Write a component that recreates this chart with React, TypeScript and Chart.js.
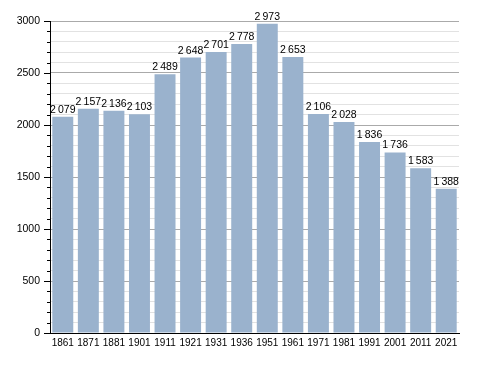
import React, { useEffect, useRef } from "react";
import { Chart, registerables } from "chart.js";

Chart.register(...registerables);

const years = ["1861", "1871", "1881", "1901", "1911", "1921", "1931", "1936", "1951", "1961", "1971", "1981", "1991", "2001", "2011", "2021"];
const population = [2079, 2157, 2136, 2103, 2489, 2648, 2701, 2778, 2973, 2653, 2106, 2028, 1836, 1736, 1583, 1388];
const yMax = 3000;
const majorStep = 500;
const minorStep = 100;

const fmt = (v: number) => {
  const s = String(v);
  return s.length > 3 ? s.slice(0, s.length - 3) + "\u2009" + s.slice(s.length - 3) : s;
};

const FONT = "'Liberation Sans', Arial, sans-serif";

const overlay = {
  id: "overlay",
  afterDatasetsDraw(chart: any) {
    const ctx = chart.ctx;
    const y = chart.scales.y;
    const area = chart.chartArea;
    ctx.save();
    ctx.strokeStyle = "#000";
    ctx.lineWidth = 1;
    for (let v = 0; v <= yMax; v += minorStep) {
      const py = Math.round(y.getPixelForValue(v)) + 0.5;
      const len = v % majorStep === 0 ? 6 : 3;
      ctx.beginPath();
      ctx.moveTo(area.left - len, py);
      ctx.lineTo(area.left, py);
      ctx.stroke();
    }
    ctx.fillStyle = "#000";
    ctx.font = "10.5px " + FONT;
    ctx.textAlign = "center";
    ctx.textBaseline = "alphabetic";
    const meta = chart.getDatasetMeta(0);
    meta.data.forEach((bar: any, i: number) => {
      ctx.fillText(fmt(population[i]), bar.x, bar.y - 4);
    });
    ctx.restore();
  },
};

export default function App() {
  const ref = useRef<HTMLCanvasElement>(null);
  useEffect(() => {
    if (!ref.current) return;
    const chart = new Chart(ref.current, {
      type: "bar",
      data: {
        labels: years,
        datasets: [
          {
            data: population,
            backgroundColor: "rgb(154,178,205)",
            borderWidth: 0,
            categoryPercentage: 0.82,
            barPercentage: 1,
          },
        ],
      },
      plugins: [overlay],
      options: {
        responsive: false,
        animation: false,
        devicePixelRatio: 1,
        layout: { padding: { left: 0, right: 29, top: 21, bottom: 0 } },
        plugins: { legend: { display: false }, tooltip: { enabled: false }, title: { display: false } },
        scales: {
          x: {
            grid: { display: false, drawTicks: false },
            border: { color: "#000", width: 1 },
            ticks: { color: "#000", font: { family: FONT, size: 10 }, padding: 4, maxRotation: 0, autoSkip: false },
            afterFit: (s: any) => { s.height = 40; },
          },
          y: {
            min: 0,
            max: yMax,
            border: { color: "#000", width: 1 },
            grid: {
              drawTicks: false,
              color: (c: any) => (c.tick && c.tick.value % majorStep === 0 ? "#aaaaaa" : "#e2e2e2"),
            },
            ticks: {
              stepSize: minorStep,
              autoSkip: false,
              color: "#000",
              font: { family: FONT, size: 10.5 },
              padding: 10,
              callback: (v: any) => (Number(v) % majorStep === 0 ? String(v) : ""),
            },
            afterFit: (s: any) => { s.width = 50; },
          },
        },
      },
    });
    return () => chart.destroy();
  }, []);
  return (
    <div style={{ position: "absolute", left: 0, top: 0, width: 488, height: 373, background: "#fff" }}>
      <canvas ref={ref} width={488} height={373} />
    </div>
  );
}
